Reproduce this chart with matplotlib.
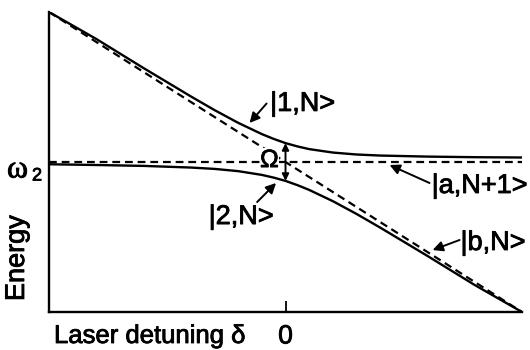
import matplotlib.pyplot as plt
import matplotlib.patheffects as pe

plt.rcParams['font.family'] = ['Liberation Sans', 'DejaVu Sans']

# detuning axis (arbitrary units, 0 = resonance)
delta = [-1.0, -0.8, -0.6, -0.4, -0.3, -0.2, -0.1, -0.05, 0.0,
         0.05, 0.1, 0.2, 0.3, 0.4, 0.6, 0.8, 1.0]
# dressed states (solid curves)
state_1 = [1.0, 0.82, 0.626, 0.437, 0.346, 0.261, 0.186, 0.154, 0.126,
           0.104, 0.086, 0.063, 0.05, 0.043, 0.036, 0.032, 0.03]
state_2 = [-0.015, -0.02, -0.026, -0.037, -0.046, -0.061, -0.086, -0.104, -0.126,
           -0.154, -0.186, -0.261, -0.346, -0.437, -0.626, -0.82, -1.0]
# bare states (dashed lines)
bare_x = [-1.0, 1.0]
state_a = [0.0, 0.0]
state_b = [1.0, -1.0]

# slightly heavier glyphs
heavy = [pe.withStroke(linewidth=0.6, foreground='k')]

fig = plt.figure(figsize=(5.3, 3.5), dpi=100)
ax = fig.add_axes([49 / 530, 38 / 350, 473 / 530, 300 / 350])

ax.plot(bare_x, state_a, color='k', lw=1.6, dashes=(3.5, 2.2))
ax.plot(bare_x, state_b, color='k', lw=1.6, dashes=(3.5, 2.2))
ax.plot(delta, state_1, color='k', lw=1.7)
ax.plot(delta, state_2, color='k', lw=1.7)

ax.set_xlim(-1, 1)
ax.set_ylim(-1, 1)
for s in ['top', 'right']:
    ax.spines[s].set_visible(False)
for s in ['left', 'bottom']:
    ax.spines[s].set_linewidth(1.7)

ax.set_xticks([0])
ax.set_xticklabels(['0'], fontsize=19, path_effects=heavy)
ax.tick_params(axis='x', direction='in', length=8, width=1.3, pad=9)
ax.set_yticks([0])
ax.set_yticklabels([''])
ax.tick_params(axis='y', direction='in', length=3, width=1.3)

# splitting at resonance
i0 = delta.index(0.0)
ax.annotate('', xy=(0, state_1[i0]), xytext=(0, state_2[i0]),
            arrowprops=dict(arrowstyle='<|-|>', color='k', lw=1.4,
                            mutation_scale=10, shrinkA=0, shrinkB=0))
ax.text(-0.068, 0.013, 'Ω', fontsize=18, ha='center', va='center',
        path_effects=heavy,
        bbox=dict(facecolor='white', edgecolor='none', pad=0.3))

arrow = dict(arrowstyle='-|>', color='k', lw=1.4, mutation_scale=15,
             shrinkA=0, shrinkB=0)
ax.annotate('', xy=(-0.152, 0.26), xytext=(-0.08, 0.39), arrowprops=arrow)
ax.text(-0.065, 0.387, '|1,N>', fontsize=19.5, ha='left', va='center',
        path_effects=heavy)
ax.annotate('', xy=(-0.04, -0.14), xytext=(-0.12, -0.267), arrowprops=arrow)
ax.text(-0.325, -0.367, '|2,N>', fontsize=19.5, ha='left', va='center',
        path_effects=heavy)
ax.annotate('', xy=(0.44, -0.02), xytext=(0.609, -0.14), arrowprops=arrow)
ax.text(0.618, -0.16, '|a,N+1>', fontsize=19.5, ha='left', va='center',
        path_effects=heavy)
ax.annotate('', xy=(0.622, -0.587), xytext=(0.736, -0.52), arrowprops=arrow)
ax.text(0.74, -0.54, '|b,N>', fontsize=19.5, ha='left', va='center',
        path_effects=heavy)

fig.text(7 / 530, 1 - 170 / 350, 'ω', fontsize=23, family='Liberation Serif',
         ha='left', va='center', path_effects=heavy)
fig.text(32 / 530, 1 - 176 / 350, '2', fontsize=13, ha='left', va='center',
         path_effects=heavy)
fig.text(17 / 530, 1 - 258 / 350, 'Energy', fontsize=19.5, rotation=90,
         ha='center', va='center', path_effects=heavy)
fig.text(54 / 530, 1 - 343 / 350, 'Laser detuning δ', fontsize=18.5,
         ha='left', va='baseline', path_effects=heavy)

fig.savefig('out.png', dpi=100)
